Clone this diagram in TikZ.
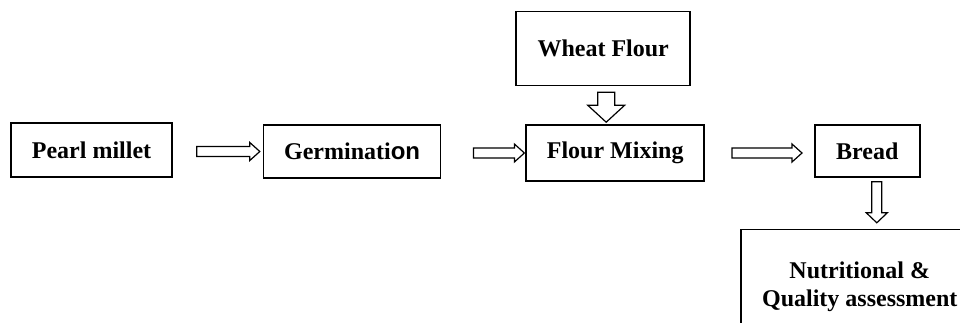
\documentclass[tikz,border=0pt]{standalone}
\usepackage{fontspec}
\setmainfont{Liberation Serif}
\newfontfamily\armfont{Liberation Sans}
\usetikzlibrary{positioning,calc}

\begin{document}
\begin{tikzpicture}[x=0.5pt,y=-0.5pt,font=\fontsize{12}{14}\selectfont\bfseries]

  \tikzstyle{stage}=[rectangle,draw=black,line width=0.8pt,inner sep=0pt,align=center]
  \tikzset{fatarrow/.style n args={3}{draw=black,line width=0.6pt,line join=miter,to path={
    let \p1=(\tikztostart), \p2=(\tikztotarget), \n1={veclen(\x2-\x1,\y2-\y1)} in
    ($(\p1)!#1!90:(\p2)$) -- ($(\p1)!\n1-#3!(\p2)!#1!90:(\p2)$)
    -- ($(\p1)!\n1-#3!(\p2)!#2!90:(\p2)$) -- (\p2)
    -- ($(\p1)!\n1-#3!(\p2)!#2!-90:(\p2)$) -- ($(\p1)!\n1-#3!(\p2)!#1!-90:(\p2)$)
    -- ($(\p1)!#1!-90:(\p2)$) -- cycle}}}

  \clip (0,0) rectangle (960,322);

  \node [stage,minimum width=80.5pt,minimum height=27pt] (pearl) at (91.5,150) {Pearl millet};
  \node [stage,minimum width=88.5pt,minimum height=26.5pt,right=45pt of pearl,yshift=-0.75pt] (germ) {Germinati{\armfont on}};
  \node [stage,minimum width=89pt,minimum height=28pt,right=42pt of germ,yshift=-0.75pt] (mix) {Flour Mixing};
  \node [stage,minimum width=87pt,minimum height=37pt,above=19pt of mix,xshift=-6pt] (wheat) {Wheat Flour};
  \node [stage,minimum width=52.5pt,minimum height=26pt,right=54.5pt of mix,yshift=1pt] (bread) {Bread};
  \node [stage,minimum width=119pt,minimum height=57pt,below=25.5pt of bread,xshift=-3.75pt] (nutri) {Nutritional \&\\Quality assessment};

  \draw [fatarrow={2.5pt}{4.5pt}{5pt}] ([xshift=-33pt]germ.west) to ([xshift=-1.5pt]germ.west);
  \draw [fatarrow={2.5pt}{4.5pt}{5pt}] ([xshift=-26pt]mix.west) to ([xshift=-0.5pt]mix.west);
  \draw [fatarrow={2.5pt}{4.5pt}{5pt}] ([xshift=13.5pt]mix.east) to ([xshift=48.5pt]mix.east);
  \draw [fatarrow={4.25pt}{9.25pt}{8.5pt}] ([xshift=1.5pt,yshift=-3pt]wheat.south) to ([xshift=1.5pt,yshift=-18pt]wheat.south);
  \draw [fatarrow={2.5pt}{5.25pt}{5pt}] ([xshift=4.75pt,yshift=-2pt]bread.south) to ([xshift=4.75pt,yshift=-22.5pt]bread.south);

\end{tikzpicture}
\end{document}
